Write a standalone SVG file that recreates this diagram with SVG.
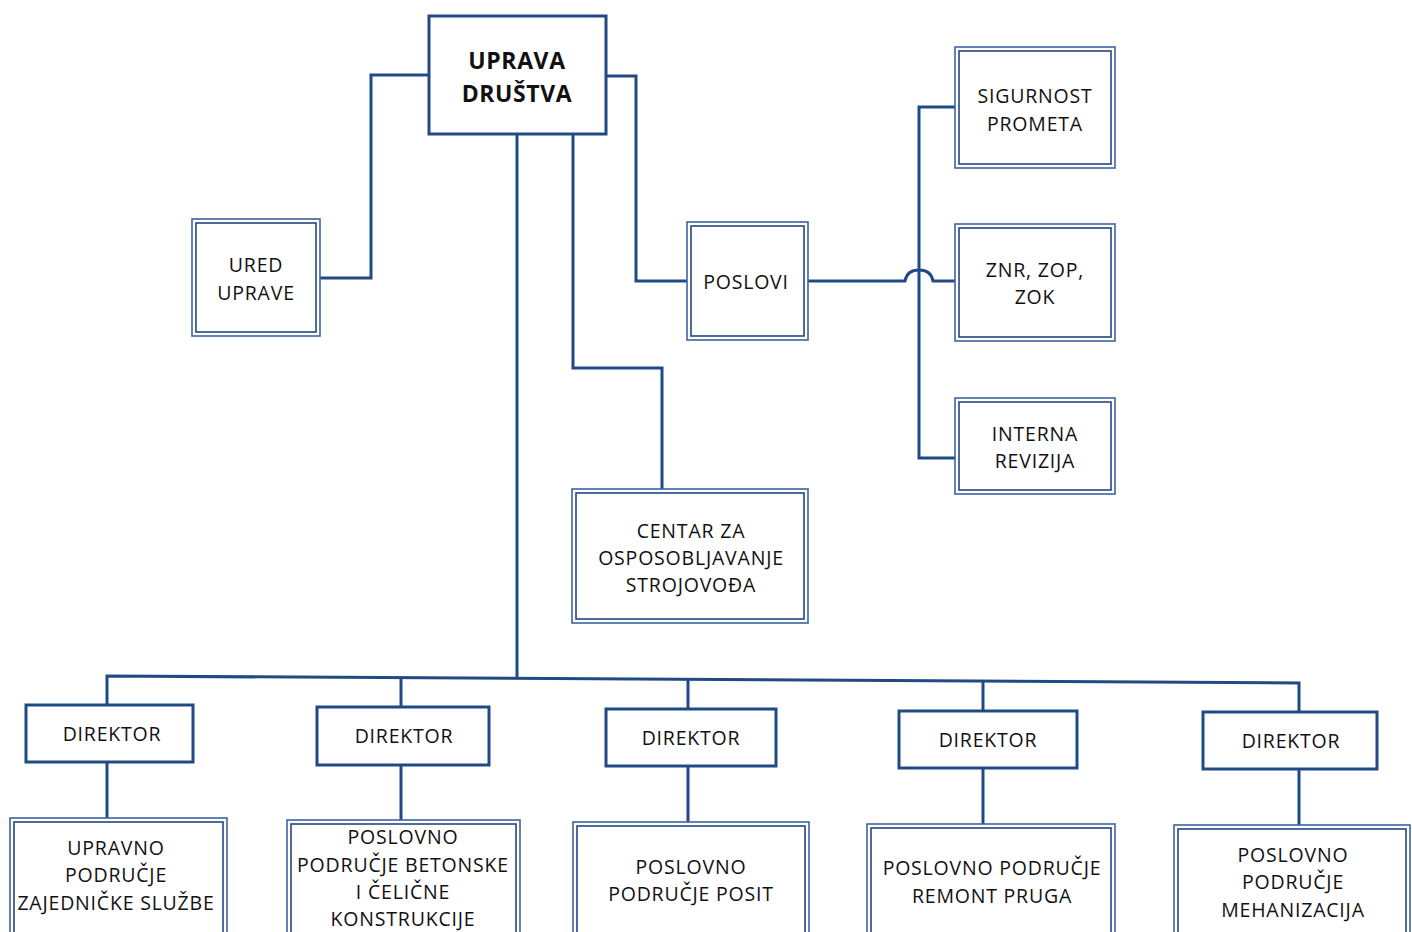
<svg xmlns="http://www.w3.org/2000/svg" width="1412" height="932" viewBox="0 0 1412 932">
<style>
.c{fill:none;stroke:#1f4a86;stroke-width:3;stroke-linejoin:miter}
.thick{fill:#fff;stroke:#1f4a86;stroke-width:3}
.o{fill:#fff;stroke:#3d64a0;stroke-width:1.6}
.i{fill:none;stroke:#23467f;stroke-width:1.6}
text{font-family:"Open Sans","Noto Sans",sans-serif;font-size:19.5px;fill:#111;text-anchor:middle;letter-spacing:0.8px}
.b{font-weight:bold;font-size:23px;letter-spacing:0.6px}
</style>
<rect width="1412" height="932" fill="#fff"/>
<g id="connectors">
<polyline class="c" points="429,75 371,75 371,278 319,278"/>
<polyline class="c" points="606,76 636,76 636,281 687,281"/>
<path class="c" d="M808,281 L905,281 Q907,270 919,270 Q931,270 933,281 L955,281"/>
<polyline class="c" points="957,107 919,107 919,458 957,458"/>
<polyline class="c" points="573,134 573,368 662,368 662,489"/>
<line class="c" x1="517" y1="134" x2="517" y2="679"/>
<polyline class="c" points="107,705 107,676 1299,683 1299,712"/>
<line class="c" x1="401" y1="677" x2="401" y2="707"/>
<line class="c" x1="688" y1="679" x2="688" y2="709"/>
<line class="c" x1="983" y1="681" x2="983" y2="711"/>
<line class="c" x1="107" y1="762" x2="107" y2="818"/>
<line class="c" x1="401" y1="765" x2="401" y2="820"/>
<line class="c" x1="688" y1="766" x2="688" y2="822"/>
<line class="c" x1="983" y1="768" x2="983" y2="824"/>
<line class="c" x1="1299" y1="769" x2="1299" y2="825"/>
</g>
<g id="uprava">
<rect class="thick" x="429" y="16" width="177" height="118"/>
<text class="b" x="517" y="69">UPRAVA</text>
<text class="b" x="517" y="102">DRUŠTVA</text>
</g>
<g id="ured">
<rect class="o" x="192" y="219" width="128" height="117"/>
<rect class="i" x="196" y="223" width="120" height="109"/>
<text x="256" y="272">URED</text>
<text x="256" y="300">UPRAVE</text>
</g>
<g id="poslovi">
<rect class="o" x="687" y="222" width="121" height="118"/>
<rect class="i" x="691" y="226" width="113" height="110"/>
<text x="746" y="289">POSLOVI</text>
</g>
<g id="sigurnost">
<rect class="o" x="955" y="47" width="160" height="121"/>
<rect class="i" x="959" y="51" width="152" height="113"/>
<text x="1035" y="103">SIGURNOST</text>
<text x="1035" y="131">PROMETA</text>
</g>
<g id="znr">
<rect class="o" x="955" y="224" width="160" height="117"/>
<rect class="i" x="959" y="228" width="152" height="109"/>
<text x="1035" y="277">ZNR, ZOP,</text>
<text x="1035" y="304">ZOK</text>
</g>
<g id="interna">
<rect class="o" x="955" y="398" width="160" height="96"/>
<rect class="i" x="959" y="402" width="152" height="88"/>
<text x="1035" y="441">INTERNA</text>
<text x="1035" y="468">REVIZIJA</text>
</g>
<g id="centar">
<rect class="o" x="572" y="489" width="236" height="134"/>
<rect class="i" x="576" y="493" width="228" height="126"/>
<text x="691" y="538">CENTAR ZA</text>
<text x="691" y="565">OSPOSOBLJAVANJE</text>
<text x="691" y="592">STROJOVOĐA</text>
</g>
<g id="dir1">
<rect class="thick" x="26" y="705" width="167" height="57"/>
<text x="112" y="741">DIREKTOR</text>
</g>
<g id="dir2">
<rect class="thick" x="317" y="707" width="172" height="58"/>
<text x="404" y="743">DIREKTOR</text>
</g>
<g id="dir3">
<rect class="thick" x="606" y="709" width="170" height="57"/>
<text x="691" y="745">DIREKTOR</text>
</g>
<g id="dir4">
<rect class="thick" x="899" y="711" width="178" height="57"/>
<text x="988" y="747">DIREKTOR</text>
</g>
<g id="dir5">
<rect class="thick" x="1203" y="712" width="174" height="57"/>
<text x="1291" y="748">DIREKTOR</text>
</g>
<g id="pp1">
<rect class="o" x="10" y="818" width="217" height="130"/>
<rect class="i" x="14" y="822" width="209" height="122"/>
<text x="116" y="855">UPRAVNO</text>
<text x="116" y="882">PODRUČJE</text>
<text x="116" y="910">ZAJEDNIČKE SLUŽBE</text>
</g>
<g id="pp2">
<rect class="o" x="287" y="820" width="233" height="130"/>
<rect class="i" x="291" y="824" width="225" height="122"/>
<text x="403" y="844">POSLOVNO</text>
<text x="403" y="872">PODRUČJE BETONSKE</text>
<text x="403" y="899">I ČELIČNE</text>
<text x="403" y="926">KONSTRUKCIJE</text>
</g>
<g id="pp3">
<rect class="o" x="573" y="822" width="236" height="130"/>
<rect class="i" x="577" y="826" width="228" height="122"/>
<text x="691" y="874">POSLOVNO</text>
<text x="691" y="901">PODRUČJE POSIT</text>
</g>
<g id="pp4">
<rect class="o" x="867" y="824" width="248" height="130"/>
<rect class="i" x="871" y="828" width="240" height="122"/>
<text x="992" y="875">POSLOVNO PODRUČJE</text>
<text x="992" y="903">REMONT PRUGA</text>
</g>
<g id="pp5">
<rect class="o" x="1174" y="825" width="236" height="130"/>
<rect class="i" x="1178" y="829" width="228" height="122"/>
<text x="1293" y="862">POSLOVNO</text>
<text x="1293" y="889">PODRUČJE</text>
<text x="1293" y="917">MEHANIZACIJA</text>
</g>
</svg>
